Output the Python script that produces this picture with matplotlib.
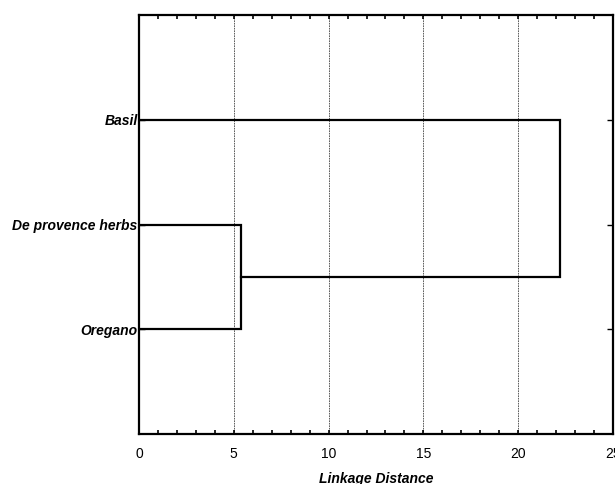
import matplotlib
matplotlib.use("Agg")
import matplotlib.pyplot as plt
from matplotlib.ticker import MultipleLocator

# leaves from top to bottom, and the linkage distances where they join
leaves = ["Basil", "De provence herbs", "Oregano"]
leaf_pos = [1, 2, 3]
join_small = 5.4    # De provence herbs + Oregano
join_big = 22.2     # (De provence herbs, Oregano) + Basil

plt.rcParams['font.family'] = ['Liberation Sans', 'DejaVu Sans']

fig = plt.figure(figsize=(6.15, 4.84), dpi=100)
ax = fig.add_axes([0.226, 0.1033, 0.7707, 0.8657])

lw = 1.6
# lower cluster
ax.plot([0, join_small, join_small, 0],
        [leaf_pos[1], leaf_pos[1], leaf_pos[2], leaf_pos[2]],
        color='black', lw=lw, solid_joinstyle='miter')
mid = (leaf_pos[1] + leaf_pos[2]) / 2
# top join
ax.plot([join_small, join_big, join_big, 0],
        [mid, mid, leaf_pos[0], leaf_pos[0]],
        color='black', lw=lw, solid_joinstyle='miter')

ax.set_xlim(0, 25)
ax.set_ylim(4, 0)
ax.xaxis.set_major_locator(MultipleLocator(5))
ax.xaxis.set_minor_locator(MultipleLocator(1))
ax.set_yticks(leaf_pos)
ax.set_yticklabels(leaves, fontweight='bold', fontstyle='italic', fontsize=10)

ax.tick_params(axis='x', which='both', direction='in', top=True, bottom=True,
               length=3, width=1.2, labelsize=10, pad=9)
ax.tick_params(axis='y', which='both', direction='in', left=True, right=True,
               length=4, width=1.0, pad=1)

ax.grid(axis='x', which='major', linestyle=(0, (2, 1)), color='#444444', lw=0.6)
ax.set_axisbelow(True)
for s in ax.spines.values():
    s.set_linewidth(1.6)

ax.set_xlabel("Linkage Distance", fontweight='bold', fontstyle='italic',
              fontsize=10, labelpad=8)

fig.savefig("out.png", dpi=100)
